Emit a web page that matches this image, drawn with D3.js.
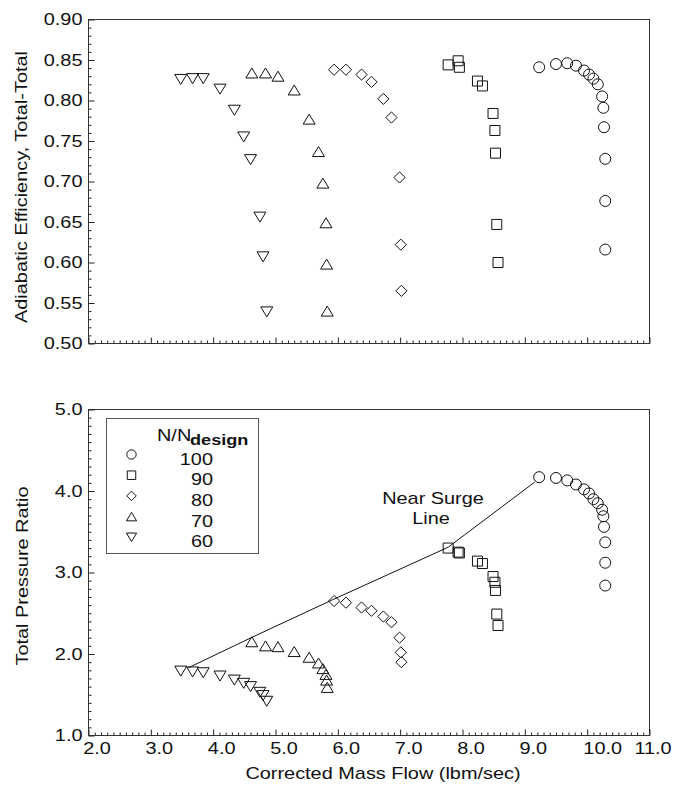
<!DOCTYPE html>
<html>
<head>
<meta charset="utf-8">
<script src="https://cdnjs.cloudflare.com/ajax/libs/d3/7.8.5/d3.min.js"></script>
<style>
  body { margin: 0; background: #fff; }
  svg { display: block; font-family: "Liberation Sans", Arial, sans-serif; }
</style>
</head>
<body>
<svg id="chart"></svg>
<script>
const width = 674;
const height = 788;

// Speed lines (N/Ndesign, %)
const speeds = ["100", "90", "80", "70", "60"];

// Corrected mass flow (lbm/sec), efficiency, total pressure ratio
const flow100 = [9.23, 9.50, 9.68, 9.82, 9.95, 10.03, 10.10, 10.17, 10.24, 10.26, 10.27, 10.29, 10.29, 10.29];
const eff100 = [0.841, 0.845, 0.846, 0.843, 0.837, 0.832, 0.827, 0.820, 0.805, 0.791, 0.767, 0.728, 0.676, 0.616];
const pr100 = [4.17, 4.16, 4.13, 4.08, 4.02, 3.97, 3.90, 3.85, 3.77, 3.69, 3.56, 3.37, 3.12, 2.84];

const flow90 = [7.77, 7.93, 7.95, 8.24, 8.32, 8.49, 8.52, 8.53, 8.55, 8.57];
const eff90 = [0.844, 0.849, 0.841, 0.824, 0.818, 0.784, 0.763, 0.735, 0.647, 0.600];
const pr90 = [3.30, 3.25, 3.24, 3.14, 3.11, 2.95, 2.88, 2.78, 2.49, 2.35];

const flow80 = [5.94, 6.13, 6.38, 6.54, 6.73, 6.86, 6.99, 7.01, 7.02];
const eff80 = [0.838, 0.838, 0.832, 0.823, 0.802, 0.779, 0.705, 0.622, 0.565];
const pr80 = [2.65, 2.63, 2.57, 2.53, 2.46, 2.39, 2.20, 2.02, 1.90];

const flow70 = [4.62, 4.84, 5.04, 5.30, 5.54, 5.69, 5.76, 5.81, 5.82, 5.83];
const eff70 = [0.834, 0.834, 0.830, 0.813, 0.777, 0.737, 0.698, 0.649, 0.598, 0.540];
const pr70 = [2.15, 2.10, 2.09, 2.03, 1.96, 1.89, 1.82, 1.75, 1.68, 1.59];

const flow60 = [3.48, 3.67, 3.84, 4.11, 4.34, 4.49, 4.60, 4.75, 4.80, 4.86];
const eff60 = [0.826, 0.827, 0.827, 0.814, 0.788, 0.755, 0.727, 0.656, 0.607, 0.539];
const pr60 = [1.79, 1.78, 1.77, 1.73, 1.68, 1.64, 1.60, 1.53, 1.49, 1.42];

// Near surge line
const surgeFlow = [3.60, 4.61, 5.90, 7.77, 9.16];
const surgePR = [1.83, 2.20, 2.66, 3.31, 4.11];

// Ticks
const xTicks = [2, 3, 4, 5, 6, 7, 8, 9, 10, 11];
const effTicks = [0.50, 0.55, 0.60, 0.65, 0.70, 0.75, 0.80, 0.85, 0.90];
const prTicks = [1, 2, 3, 4, 5];

const series = [
  { name: speeds[0], shape: "circle", flow: flow100, eff: eff100, pr: pr100 },
  { name: speeds[1], shape: "square", flow: flow90, eff: eff90, pr: pr90 },
  { name: speeds[2], shape: "diamond", flow: flow80, eff: eff80, pr: pr80 },
  { name: speeds[3], shape: "triUp", flow: flow70, eff: eff70, pr: pr70 },
  { name: speeds[4], shape: "triDown", flow: flow60, eff: eff60, pr: pr60 }
];

const FONT = 17;
const STRETCH = 1.17; // reference type is set wide

const svg = d3.select("#chart")
  .attr("width", width)
  .attr("height", height);

// Scales
const x = d3.scaleLinear().domain([2, 11]).range([88.5, 649.5]);
const yEff = d3.scaleLinear().domain([0.5, 0.9]).range([343.5, 19.5]);
const yPR = d3.scaleLinear().domain([1, 5]).range([735.5, 409.5]);

// Marker paths, centred on their bounding box
function shapePath(shape, k) {
  const r = 5.5 * k, s = 5 * k, d = 5.6 * k, tw = 6 * k, th = 5 * k;
  switch (shape) {
    case "circle": return `M${r},0A${r},${r} 0 1,1 ${-r},0A${r},${r} 0 1,1 ${r},0Z`;
    case "square": return `M${-s},${-s}H${s}V${s}H${-s}Z`;
    case "diamond": return `M0,${-d}L${d},0L0,${d}L${-d},0Z`;
    case "triUp": return `M0,${-th}L${tw},${th}L${-tw},${th}Z`;
    case "triDown": return `M${-tw},${-th}L${tw},${-th}L0,${th}Z`;
  }
}

// widen text horizontally around its own origin
function stretch(sel) {
  sel.each(function () {
    const t = d3.select(this);
    const x0 = +t.attr("x") || 0;
    t.attr("x", x0 / STRETCH).attr("transform", `scale(${STRETCH},1)`);
  });
}

function styleAxis(g) {
  g.select(".domain").remove();
  g.attr("font-size", FONT).attr("font-family", null);
  g.selectAll("line").attr("stroke", "#222");
  g.selectAll("text").attr("fill", "#111");
}

// x labels sit right of their tick; the last two are nudged as in the original
const xLabelShift = d => (d === 11 ? 3 : d === 10 ? 15 : 8);

function drawPanel(yScale, majorTicks, minorTicks, fmt, valueKey, showXLabels) {
  const [yBottom, yTop] = yScale.range();
  const [xLeft, xRight] = x.range();

  // minor x ticks
  svg.append("g")
    .attr("transform", `translate(0,${yBottom})`)
    .call(d3.axisBottom(x).tickValues(d3.range(20, 111).filter(i => i % 10).map(i => i / 10))
      .tickSizeInner(-3).tickSizeOuter(0).tickFormat(""))
    .call(styleAxis);

  // major x ticks
  const xg = svg.append("g")
    .attr("transform", `translate(0,${yBottom})`)
    .call(d3.axisBottom(x).tickValues(xTicks).tickSizeInner(-6).tickSizeOuter(0)
      .tickPadding(6).tickFormat(showXLabels ? d3.format(".1f") : ""))
    .call(styleAxis);
  xg.selectAll("text").attr("x", xLabelShift).call(stretch);

  // minor y ticks
  svg.append("g")
    .attr("transform", `translate(${xLeft},0)`)
    .call(d3.axisLeft(yScale).tickValues(minorTicks).tickSizeInner(-3).tickSizeOuter(0).tickFormat(""))
    .call(styleAxis);

  // major y ticks
  const yg = svg.append("g")
    .attr("transform", `translate(${xLeft},0)`)
    .call(d3.axisLeft(yScale).tickValues(majorTicks).tickSizeInner(-6).tickSizeOuter(0)
      .tickPadding(6).tickFormat(d3.format(fmt)))
    .call(styleAxis);
  yg.selectAll("text").call(stretch);

  // frame
  svg.append("rect")
    .attr("x", xLeft)
    .attr("y", yTop)
    .attr("width", xRight - xLeft)
    .attr("height", yBottom - yTop)
    .attr("fill", "none")
    .attr("stroke", "#333")
    .attr("stroke-width", 1);

  // markers
  series.forEach(s => {
    svg.append("g")
      .selectAll("path")
      .data(s.flow.map((f, i) => ({ f, v: s[valueKey][i] })))
      .join("path")
      .attr("transform", d => `translate(${x(d.f)},${yScale(d.v)})`)
      .attr("d", shapePath(s.shape, 1))
      .attr("fill", "none")
      .attr("stroke", "#111")
      .attr("stroke-width", 1);
  });
}

// Top panel: efficiency
drawPanel(yEff, effTicks, d3.range(50, 91).filter(i => i % 5).map(i => i / 100), ".2f", "eff", false);

// Bottom panel: pressure ratio
drawPanel(yPR, prTicks, d3.range(10, 51).filter(i => i % 10).map(i => i / 10), ".1f", "pr", true);

// Near surge line
svg.append("path")
  .datum(surgeFlow.map((f, i) => [f, surgePR[i]]))
  .attr("fill", "none")
  .attr("stroke", "#111")
  .attr("stroke-width", 1)
  .attr("d", d3.line().x(d => x(d[0])).y(d => yPR(d[1])));

function addText(tx, ty, str, opts = {}) {
  const g = svg.append("g").attr("transform", `translate(${tx},${ty})${opts.rotate ? " rotate(-90)" : ""}`);
  return g.append("text")
    .attr("transform", `scale(${STRETCH},1)`)
    .attr("text-anchor", opts.anchor || "middle")
    .attr("font-size", opts.size || FONT)
    .attr("font-weight", opts.weight || "normal")
    .attr("fill", "#111")
    .text(str);
}

addText(433, 504, "Near Surge");
addText(431, 524, "Line");

// Axis titles
addText(383, 779, "Corrected Mass Flow (lbm/sec)");
addText(27, 187, "Adiabatic Efficiency, Total-Total", { rotate: true });
addText(28, 576, "Total Pressure Ratio", { rotate: true });

// Legend
const legend = svg.append("g");
legend.append("rect")
  .attr("x", 106.5)
  .attr("y", 418.5)
  .attr("width", 152)
  .attr("height", 135)
  .attr("fill", "#fff")
  .attr("stroke", "#555")
  .attr("stroke-width", 1);

addText(157, 441, "N/N", { anchor: "start" });
addText(190, 445, "design", { anchor: "start", size: 15.5, weight: "bold" });

series.forEach((s, i) => {
  const cy = 458.5 + i * 20.7;
  legend.append("path")
    .attr("transform", `translate(131.5,${cy - 4})`)
    .attr("d", shapePath(s.shape, 0.85))
    .attr("fill", "none")
    .attr("stroke", "#111")
    .attr("stroke-width", 1);
  addText(213, cy + 6, s.name, { anchor: "end" });
});
</script>
</body>
</html>
